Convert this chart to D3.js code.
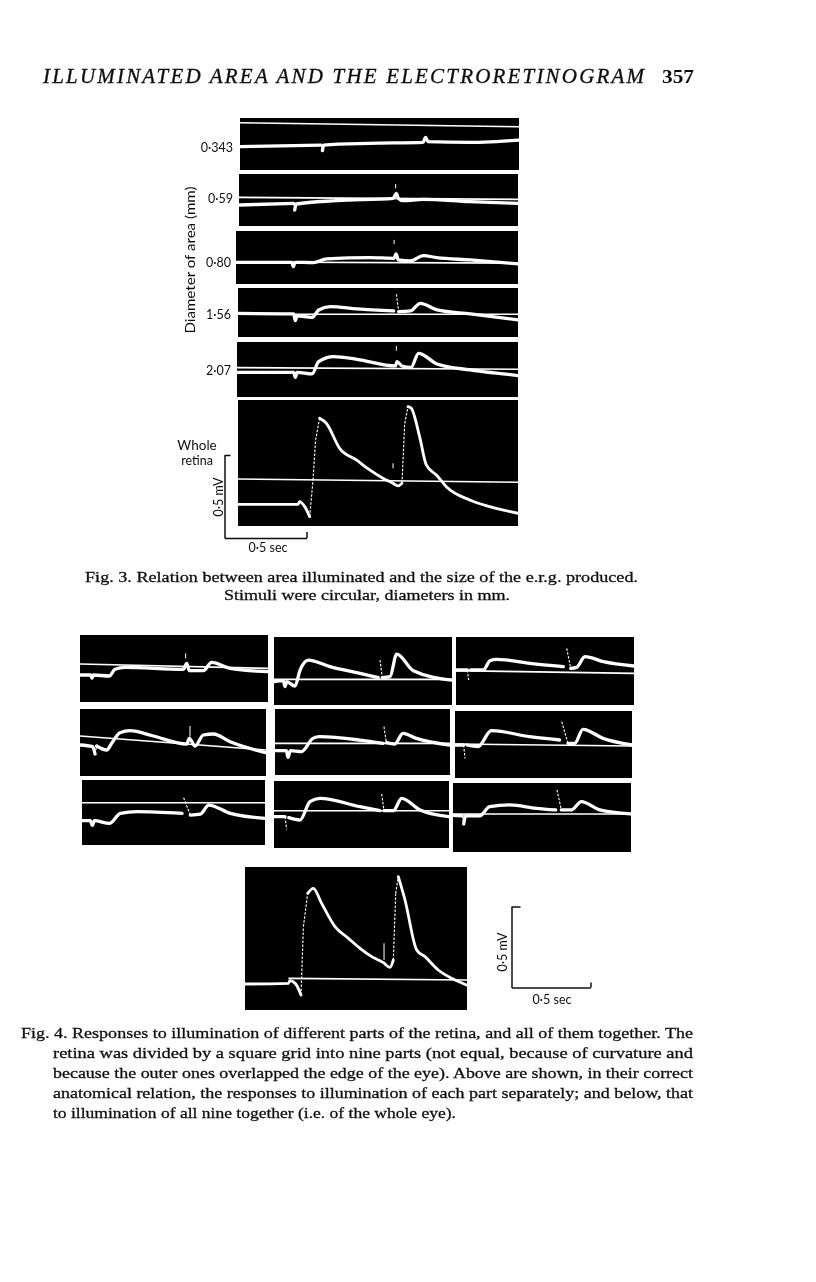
<!DOCTYPE html>
<html>
<head>
<meta charset="utf-8">
<script src="https://cdn.jsdelivr.net/npm/d3@7"></script>
<style>
    html, body { margin: 0; padding: 0; background: #fff; }
    svg { display: block; }
</style>
</head>
<body>
<svg id="page" width="816" height="1282"></svg>
<script>
// Fig. 3 - traces, time in sec from panel left edge, potential in mV from the pre-stimulus level
const diameters = ["0·343", "0·59", "0·80", "1·56", "2·07"];

const d343T = [0, .508, .515, .523, .810, 1.144, 1.160, 1.175, 1.435, 1.742];
const d343V = [0, .010, -.024, .010, .020, .026, .056, .030, .026, .040];
const d059T = [0, .342, .348, .358, .608, .963, .983, .996, 1.025, 1.150, 1.442, 1.740];
const d059V = [0, .010, -.030, .006, .026, .040, .070, .040, .026, .034, .020, .010];
const d080T = [0, .348, .358, .369, .483, .567, .838, .988, 1.0, 1.015, 1.088, 1.171, 1.254, 1.463, 1.765];
const d080V = [0, 0, -.026, 0, -.002, .020, .028, .024, .050, .014, .008, .040, .028, .014, -.010];
const d156T = [0, .348, .358, .369, .463, .504, .577, .744, .973, .990, 1.004, 1.077, 1.140, 1.244, 1.452, 1.754];
const d156V = [0, -.004, -.044, -.016, -.024, .020, .040, .026, .014, .114, .010, .014, .060, .020, -.004, -.040];
const d207T = [0, .354, .365, .375, .469, .510, .604, .750, .990, 1.0, 1.031, 1.088, 1.135, 1.25, 1.458, 1.760];
const d207V = [0, 0, -.030, 0, -.010, .064, .094, .078, .038, .064, .038, .030, .114, .050, .014, -.020];
const wholeAT = [0, .375, .385, .417, .448, .469, .485, .510, .552, .635, .740, .823, .906, .969, 1.0, 1.025, 1.042, 1.0625, 1.083, 1.135, 1.177, 1.240, 1.302, 1.448, 1.573, 1.750];
const wholeAV = [0, 0, .016, -.014, -.074, .146, .386, .516, .486, .336, .266, .206, .156, .126, .110, .126, .486, .586, .576, .406, .236, .176, .106, .026, -.014, -.054];

// Fig. 4 - the nine parts of the grid, then all nine together
const a1T = [0, .067, .075, .083, .183, .219, .281, .646, .667, .683, .771, .823, .938, 1.177];
const a1V = [0, 0, -.020, 0, -.006, .034, .046, .034, .070, .026, .026, .076, .040, .020];
const a2T = [0, .079, .094, .104, .167, .198, .25, .3125, .458, .667, .683, .719, .771, .833, .938, 1.160];
const a2V = [0, -.010, -.054, -.006, -.030, .010, .074, .086, .054, .006, .040, -.006, .060, .066, .020, -.046];
const a3T = [0, .052, .065, .077, .173, .240, .344, .625, .635, .677, .740, .792, .927, 1.146];
const a3V = [0, 0, -.028, 0, -.016, .044, .054, .044, .138, .034, .040, .094, .044, .014];
const b1T = [0, .058, .069, .079, .131, .163, .215, .35, .5375, .652, .6625, .677, .725, .767, .871, 1.110];
const b1V = [0, .006, -.030, 0, -.026, .070, .130, .090, .050, .024, .130, .024, .030, .166, .066, .010];
const b2T = [0, .071, .081, .096, .165, .2375, .279, .529, .675, .681, .696, .748, .8, .883, 1.092];
const b2V = [0, 0, -.040, 0, -.006, .074, .084, .064, .044, .144, .048, .040, .104, .074, .034];
const b3T = [0, .069, .079, .092, .1625, .225, .2875, .5375, .6625, .673, .6875, .746, .798, .9125, 1.096];
const b3V = [0, 0, -.076, -.006, -.020, .090, .110, .060, .036, .136, .036, .036, .110, .040, 0];
const c1T = [0, .071, .079, .092, .171, .2125, .254, .4625, .671, .692, .717, .754, .806, .921, 1.1125];
const c1V = [0, 0, -.060, 0, 0, .056, .064, .040, .020, .130, .010, .016, .080, .050, .024];
const c2T = [0, .054, .0625, .075, .144, .227, .467, .654, .667, .706, .748, .8, .925, 1.106];
const c2V = [0, 0, -.080, 0, -.010, .086, .050, .030, .140, .010, .010, .094, .040, 0];
const c3T = [0, .058, .067, .079, .167, .229, .354, .521, .642, .65, .677, .740, .802, .917, 1.110];
const c3V = [0, -.004, -.052, -.004, -.004, .052, .062, .042, .032, .152, .032, .032, .082, .032, .008];
const wholeBT = [0, .271, .281, .317, .35, .365, .392, .427, .479, .5625, .646, .719, .792, .865, .906, .927, .942, .958, 1.0, 1.073, 1.125, 1.208, 1.292, 1.385];
const wholeBV = [0, .004, .020, 0, -.066, .344, .544, .574, .484, .344, .274, .214, .164, .128, .100, .144, .544, .644, .504, .204, .164, .084, .034, -.006];

const pxPerSec = 160;
const pxPerMv = 166.67;

// page layout of each photographed panel: box, level of the trace, zero line (mV at both ends), loose spike
const panels = [
    {x: 240, y: 118, w: 279, h: 52, base: 146.7, t: d343T, v: d343V, ref: [.144, .12]},
    {x: 239, y: 174, w: 279, h: 52, base: 205, t: d059T, v: d059V, ref: [.046, .034], spike: [.979, .126, .100]},
    {x: 236, y: 231, w: 282, h: 53, base: 262.3, t: d080T, v: d080V, ref: [.002, -.005], spike: [.988, .134, .110]},
    {x: 238, y: 288, w: 280, h: 49, base: 313.3, t: d156T, v: d156V, ref: [-.006, -.006]},
    {x: 237, y: 342, w: 281, h: 55, base: 372.3, t: d207T, v: d207V, ref: [.028, .018], spike: [.996, .158, .130]},
    {x: 238, y: 400, w: 280, h: 126, base: 504.3, t: wholeAT, v: wholeAV, ref: [.152, .132], spike: [.969, .246, .216]},
    {x: 80, y: 635, w: 188, h: 67, base: 675, t: a1T, v: a1V, ref: [.066, .040], spike: [.660, .130, .100]},
    {x: 80, y: 709, w: 186, h: 67, base: 745, t: a2T, v: a2V, ref: [.054, -.030], spike: [.6875, .114, .050]},
    {x: 82, y: 780, w: 183, h: 65, base: 820.7, t: a3T, v: a3V, ref: [.108, .108]},
    {x: 274, y: 637, w: 178, h: 68, base: 681.7, t: b1T, v: b1V, ref: [.014, .014]},
    {x: 275, y: 709, w: 175, h: 66, base: 750.7, t: b2T, v: b2V, ref: [.044, .044]},
    {x: 274, y: 781, w: 175, h: 67, base: 816.7, t: b3T, v: b3V, ref: [.036, .036]},
    {x: 456, y: 637, w: 178, h: 68, base: 670, t: c1T, v: c1V, ref: [-.004, -.020]},
    {x: 455, y: 711, w: 177, h: 67, base: 745, t: c2T, v: c2V, ref: [.006, -.006]},
    {x: 453, y: 783, w: 178, h: 69, base: 815.3, t: c3T, v: c3V, ref: [.008, .008]},
    {x: 245, y: 867, w: 222, h: 143, base: 984, t: wholeBT, v: wholeBV, ref: [.034, .024], refFrom: .271, spike: [.869, .244, .144]}
];

const svg = d3.select("#page");

const defs = svg.append("defs");
defs.append("filter").attr("id", "scan")
    .append("feGaussianBlur").attr("stdDeviation", 0.45);
defs.append("filter").attr("id", "scanText")
    .append("feGaussianBlur").attr("stdDeviation", 0.25);

const panelLayer = svg.append("g").attr("filter", "url(#scan)");

// splits a trace into segments: the fast ones are too quick for the film, thin and broken,
// and the short jump up into a stimulus artefact does not show at all
function segmentsOf(pts) {
    const segs = d3.pairs(pts).map(([a, b]) => ({
        a: a,
        b: b,
        drop: b[1] - a[1],
        steep: Math.abs((b[1] - a[1]) / Math.max(b[0] - a[0], 0.01)) > 4.8,
        hidden: false
    }));
    segs.forEach((s, j) => {
        if (!s.steep || -s.drop <= 8 || -s.drop >= 30) return;
        const prev = segs[j - 1];
        const next = segs[j + 1];
        if (prev && prev.steep && prev.drop < 0) return; // top of a real rise
        if (next && next.drop > 8) {
            s.hidden = true;
            next.steep = true;
        } else if (prev && prev.steep && prev.drop > 8) {
            s.hidden = true;
        }
    });
    return segs;
}

panels.forEach((p, i) => {
    const xScale = d3.scaleLinear().domain([0, 1]).range([p.x, p.x + pxPerSec]);
    const yScale = d3.scaleLinear().domain([0, 1]).range([p.base, p.base - pxPerMv]);

    defs.append("clipPath").attr("id", "clip" + i)
        .append("rect").attr("x", p.x).attr("y", p.y).attr("width", p.w).attr("height", p.h);

    const g = panelLayer.append("g").attr("clip-path", `url(#clip${i})`);

    g.append("rect")
        .attr("x", p.x).attr("y", p.y)
        .attr("width", p.w).attr("height", p.h)
        .attr("fill", "#060606");

    // zero line
    const refStart = p.refFrom === undefined ? 0 : p.refFrom;
    g.append("line")
        .attr("x1", xScale(refStart)).attr("x2", p.x + p.w)
        .attr("y1", yScale(p.ref[0])).attr("y2", yScale(p.ref[1]))
        .attr("stroke", "#fff").attr("stroke-width", 1.6);

    const pts = p.t.map((t, j) => [xScale(t), yScale(p.v[j])]);
    const smooth = d3.line().curve(d3.curveMonotoneX);
    const straight = d3.line();

    const runs = [];
    segmentsOf(pts).forEach(s => {
        if (s.hidden) {
            runs.push(null);
            return;
        }
        const last = runs[runs.length - 1];
        if (!s.steep && last && !last.steep) last.pts.push(s.b);
        else runs.push({steep: s.steep, pts: [s.a, s.b]});
    });

    runs.filter(run => run).forEach(run => {
        if (run.steep) {
            g.append("path")
                .attr("d", straight(run.pts))
                .attr("fill", "none")
                .attr("stroke", "#fff")
                .attr("stroke-width", 1.1)
                .attr("stroke-dasharray", "2.5 1.5");
            return;
        }
        g.append("path")
            .attr("d", smooth(run.pts))
            .attr("fill", "none")
            .attr("stroke", "#fff")
            .attr("stroke-linecap", "round")
            .attr("stroke-linejoin", "round")
            .attr("stroke-width", p.h > 100 ? 2.8 : 3.3);
    });

    if (p.spike) {
        g.append("line")
            .attr("x1", xScale(p.spike[0])).attr("x2", xScale(p.spike[0]))
            .attr("y1", yScale(p.spike[1])).attr("y2", yScale(p.spike[2]))
            .attr("stroke", "#fff").attr("stroke-width", 1);
    }
});

// scale bars, 0.5 mV up and 0.5 sec along
function scaleBar(x0, y0, barW, barH, tickUp, tickRight) {
    const sec = d3.scaleLinear().domain([0, .5]).range([x0, x0 + barW]);
    const mv = d3.scaleLinear().domain([0, .5]).range([y0, y0 - barH]);

    const bar = svg.append("g").attr("filter", "url(#scan)");
    bar.append("g").attr("transform", `translate(0,${y0})`)
        .call(d3.axisBottom(sec).tickValues([.5]).tickSizeInner(-tickUp).tickSizeOuter(0).tickFormat(""));
    bar.append("g").attr("transform", `translate(${x0},0)`)
        .call(d3.axisLeft(mv).tickValues([.5]).tickSizeInner(-tickRight).tickSizeOuter(0).tickFormat(""));
    bar.selectAll("path, line").attr("stroke", "#111").attr("stroke-width", 1.5);
}
scaleBar(224.5, 538, 82, 83, 6, 6);
scaleBar(511.5, 987.5, 79, 81, 5, 9);

// text
const sansFont = "Lato, 'Open Sans', sans-serif";
const serifFont = "'Liberation Serif', serif";
const textLayer = svg.append("g").attr("filter", "url(#scanText)");

function label(text, x, y, opts = {}) {
    const t = textLayer.append("text")
        .attr("x", x).attr("y", y)
        .attr("font-family", opts.font || sansFont)
        .attr("font-size", opts.size || 13)
        .attr("font-style", opts.italic ? "italic" : null)
        .attr("font-weight", opts.weight || null)
        .attr("text-anchor", opts.anchor || "start")
        .attr("fill", "#111")
        .text(text);
    if (opts.rotate) t.attr("transform", `rotate(-90 ${x} ${y})`);
    if (opts.heavy) t.attr("stroke", "#111").attr("stroke-width", opts.heavy);
    if (opts.length) t.attr("textLength", opts.length).attr("lengthAdjust", opts.adjust || "spacingAndGlyphs");
    return t;
}

label("ILLUMINATED AREA AND THE ELECTRORETINOGRAM", 43, 83, {font: serifFont, size: 21, italic: true, heavy: .35, length: 601, adjust: "spacing"});
label("357", 662, 83, {font: serifFont, size: 19, weight: "bold", length: 32});

const diameterBase = [152, 203, 267, 319, 375];
const diameterRight = [233, 233, 231, 231, 231];
diameters.forEach((d, i) => label(d, diameterRight[i], diameterBase[i], {anchor: "end", size: 12.5}));

label("Diameter of area (mm)", 195, 260, {anchor: "middle", rotate: true, size: 13.5, length: 147});
label("Whole", 197, 450, {anchor: "middle", size: 13.5});
label("retina", 197, 465, {anchor: "middle", size: 12.5});
label("0·5 mV", 223, 497, {anchor: "middle", rotate: true, size: 12.5});
label("0·5 sec", 268, 552, {anchor: "middle", size: 12.5});
label("0·5 mV", 507, 952, {anchor: "middle", rotate: true, size: 12.5});
label("0·5 sec", 552, 1004, {anchor: "middle", size: 12.5});

const capFont = {font: serifFont, size: 15.5, heavy: .3};
label("Fig. 3.  Relation between area illuminated and the size of the e.r.g. produced.", 85, 582, {...capFont, length: 553});
label("Stimuli were circular, diameters in mm.", 224, 600, {...capFont, length: 286});

const fig4Lines = [
    "Fig. 4.  Responses to illumination of different parts of the retina, and all of them together. The",
    "retina was divided by a square grid into nine parts (not equal, because of curvature and",
    "because the outer ones overlapped the edge of the eye).  Above are shown, in their correct",
    "anatomical relation, the responses to illumination of each part separately; and below, that",
    "to illumination of all nine together (i.e. of the whole eye)."
];
const fig4Left = [21, 53, 53, 53, 53];
const fig4Right = [693, 693, 693, 693, 456];
const fig4Base = [1038, 1058, 1078, 1098, 1118];
fig4Lines.forEach((s, i) => {
    label(s, fig4Left[i], fig4Base[i], {...capFont, length: fig4Right[i] - fig4Left[i]});
});
</script>
</body>
</html>
